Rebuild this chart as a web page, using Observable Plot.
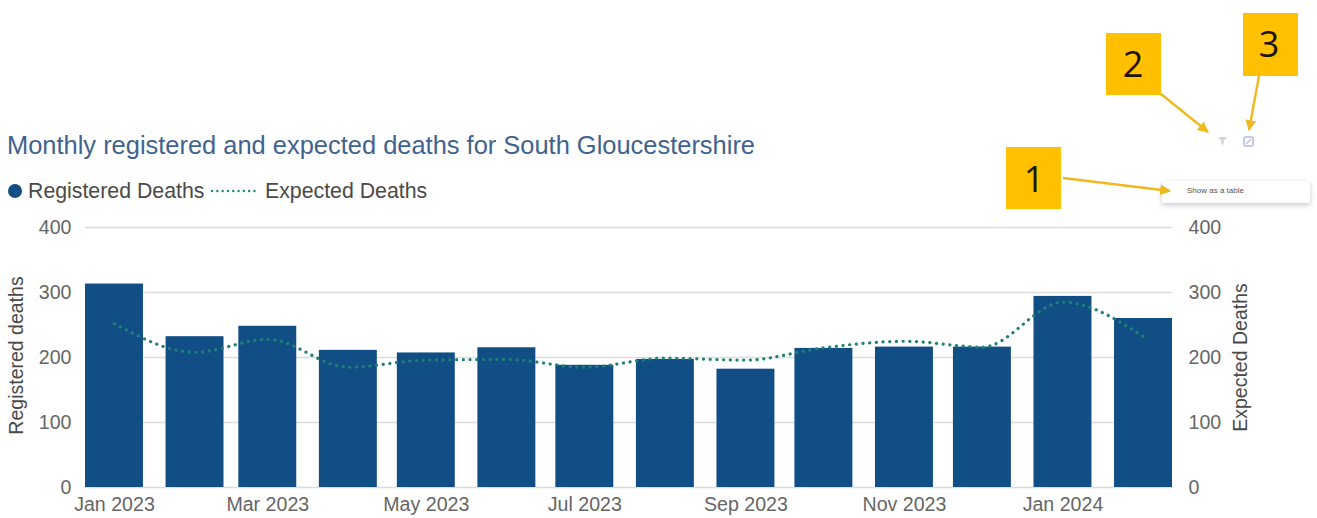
<!DOCTYPE html>
<html>
<head>
<meta charset="utf-8">
<script src="https://cdn.jsdelivr.net/npm/d3@7"></script>
<script src="https://cdn.jsdelivr.net/npm/@observablehq/plot@0.6"></script>
<style>
  html, body { margin: 0; background: #fff; }
  body { position: relative; width: 1317px; height: 518px; overflow: hidden; font-family: "Liberation Sans", Arial, sans-serif; }
  #head { height: 210px; position: relative; }
  #title { position: absolute; left: 7px; top: 130px; font-size: 25.45px; line-height: 30px; color: #3f6390; white-space: nowrap; }
  #legend { position: absolute; left: 0; top: 178px; height: 26px; width: 460px; }
  #chart svg { display: block; }
  #notes { position: absolute; left: 0; top: 0; pointer-events: none; }
  #menu { position: absolute; left: 1162px; top: 181px; width: 148px; height: 22px; background: #fff;
          box-shadow: 0 2px 5px rgba(0,0,0,.22); font-size: 8px; line-height: 19px; color: #555; text-indent: 25px; }
</style>
</head>
<body>
<div id="head">
  <div id="title">Monthly registered and expected deaths for South Gloucestershire</div>
  <svg id="legend" viewBox="0 0 460 26">
    <circle cx="15" cy="13" r="7" fill="#104e85"></circle>
    <text x="28" y="20" font-size="21.3" fill="#4a4a4a">Registered Deaths</text>
    <line x1="212" x2="259" y1="13" y2="13" stroke="#1f8a78" stroke-width="2.4" stroke-linecap="round" stroke-dasharray="0.1 5.2"></line>
    <text x="265" y="20" font-size="21.3" fill="#4a4a4a">Expected Deaths</text>
  </svg>
</div>
<div id="chart"></div>
<div id="menu">Show as a table</div>
<svg id="notes" width="1317" height="518" viewBox="0 0 1317 518">
  <defs>
    <marker id="head-arrow" viewBox="0 0 10 10" refX="9" refY="5" markerWidth="4.6" markerHeight="4.6" orient="auto">
      <path d="M0 0L10 5L0 10z" fill="#efb81f"></path>
    </marker>
  </defs>
  <g fill="#ffc000">
    <rect x="1006" y="147" width="55" height="62"></rect>
    <rect x="1106" y="33" width="55" height="62"></rect>
    <rect x="1243" y="13" width="55" height="63"></rect>
  </g>
  <g stroke="#efb81f" stroke-width="2.4" fill="none">
    <line x1="1063" y1="178" x2="1170" y2="191" marker-end="url(#head-arrow)"></line>
    <line x1="1161" y1="94" x2="1208" y2="132" marker-end="url(#head-arrow)"></line>
    <line x1="1259" y1="76" x2="1249" y2="130" marker-end="url(#head-arrow)"></line>
  </g>
  <g font-family="'Open Sans', sans-serif" font-size="36" fill="#1d1407" text-anchor="middle">
    <text x="1034" y="192">1</text>
    <text x="1133" y="77">2</text>
    <text x="1269" y="57">3</text>
  </g>
  <path d="M1218 137h9l-3.4 4v4l-2.2-1v-3z" fill="#d2d4d8"></path>
  <rect x="1244" y="137" width="9" height="9" rx="1.5" fill="none" stroke="#b7bce0" stroke-width="1.6"></rect>
  <path d="M1246 144l5-5" stroke="#b7bce0" stroke-width="1.2"></path>
</svg>
<script>
// Months reported, first day of each month
const months = ["2023-01-01","2023-02-01","2023-03-01","2023-04-01","2023-05-01","2023-06-01","2023-07-01",
                "2023-08-01","2023-09-01","2023-10-01","2023-11-01","2023-12-01","2024-01-01","2024-02-01"];
const registeredDeaths = [313, 232, 248, 211, 207, 215, 188, 197, 182, 214, 216, 216, 294, 260];
const expectedDeaths   = [252, 208, 228, 185, 196, 197, 185, 199, 196, 215, 225, 216, 285, 232];
const yTicks = [0, 100, 200, 300, 400];
const xTickMonths = ["2023-01-01","2023-03-01","2023-05-01","2023-07-01","2023-09-01","2023-11-01","2024-01-01"];

const DAY = 864e5;
const HALF_BAR_DAYS = 11.15;
const parseDate = s => new Date(s + "T00:00:00Z");
const rows = months.map((m, i) => ({
  date: parseDate(m),
  registered: registeredDeaths[i],
  expected: expectedDeaths[i]
}));
const shift = (d, days) => new Date(+d + days * DAY);
const formatMonth = d3.utcFormat("%b %Y");

const tickStyle = {fontSize: 19.6, color: "#666", tickSize: 0};

const chart = Plot.plot({
  width: 1317,
  height: 308,
  marginLeft: 85,
  marginRight: 145,
  marginTop: 17,
  marginBottom: 31,
  style: {fontFamily: "'Liberation Sans', Arial, sans-serif", background: "transparent", overflow: "visible"},
  x: {type: "utc", domain: [shift(rows[0].date, -HALF_BAR_DAYS), shift(rows[rows.length - 1].date, HALF_BAR_DAYS)]},
  y: {domain: [0, 400]},
  marks: [
    Plot.ruleY(yTicks, {stroke: "#dcdcdc", strokeWidth: 1.6}),
    Plot.rectY(rows, {
      x1: d => shift(d.date, -HALF_BAR_DAYS),
      x2: d => shift(d.date, HALF_BAR_DAYS),
      y: "registered",
      fill: "#104e85"
    }),
    Plot.line(rows, {
      x: "date",
      y: "expected",
      curve: "monotone-x",
      stroke: "#1f8078",
      strokeWidth: 3.2,
      strokeLinecap: "round",
      strokeDasharray: "0.1 6.6"
    }),
    Plot.axisX({
      ticks: xTickMonths.map(parseDate),
      tickFormat: formatMonth,
      tickPadding: 10,
      label: null,
      ...tickStyle
    }),
    Plot.axisY({
      anchor: "left",
      ticks: yTicks,
      tickPadding: 14,
      label: null,
      ...tickStyle
    }),
    Plot.axisY({
      anchor: "right",
      ticks: yTicks,
      tickPadding: 16,
      label: null,
      ...tickStyle
    }),
    Plot.text(["Registered deaths"], {
      frameAnchor: "left",
      textAnchor: "middle",
      dx: -69,
      dy: -2,
      rotate: -90,
      fontSize: 19.5,
      fill: "#4a4a4a"
    }),
    Plot.text(["Expected Deaths"], {
      frameAnchor: "right",
      textAnchor: "middle",
      dx: 68,
      rotate: -90,
      fontSize: 19.5,
      fill: "#4a4a4a"
    })
  ]
});
document.getElementById("chart").appendChild(chart);
</script>
</body>
</html>
